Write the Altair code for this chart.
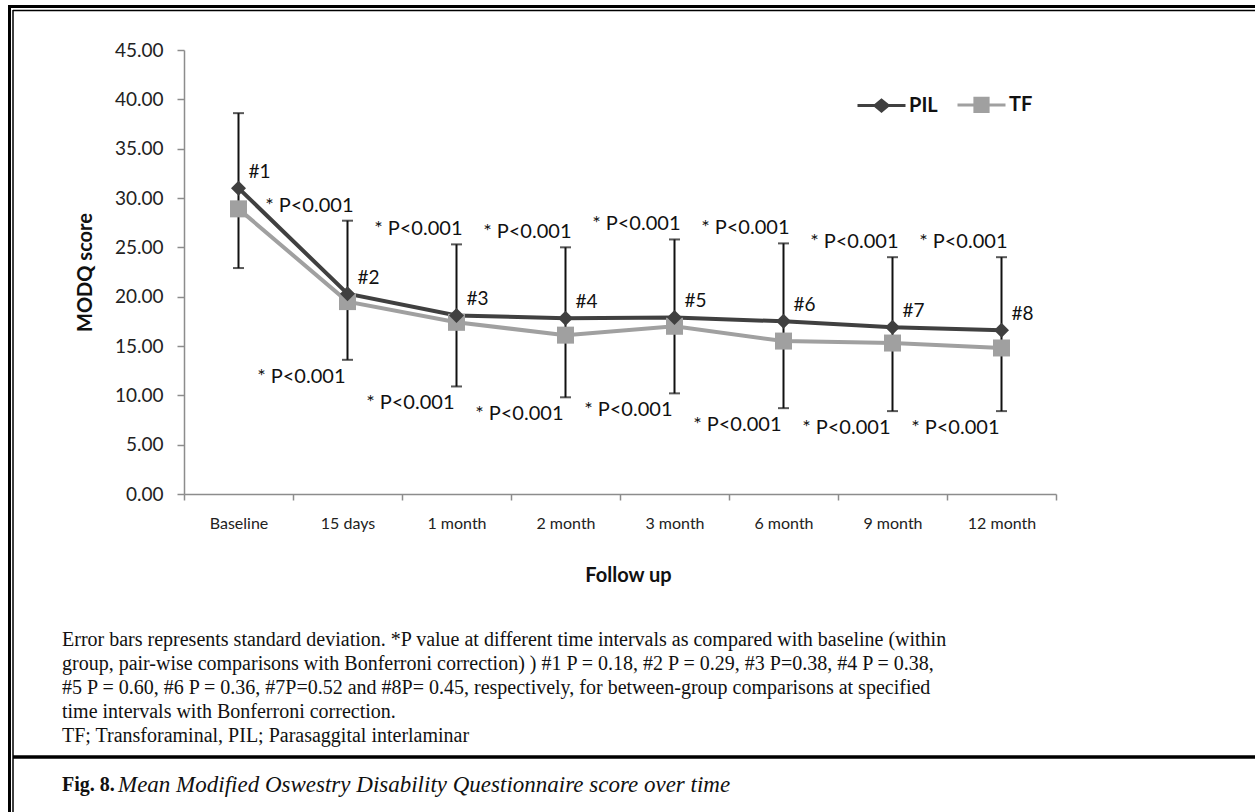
import altair as alt
import pandas as pd

categories = ["Baseline", "15 days", "1 month", "2 month", "3 month", "6 month", "9 month", "12 month"]
pil_mean = [31.0, 20.3, 18.1, 17.8, 17.9, 17.5, 16.9, 16.6]
tf_mean = [28.9, 19.5, 17.4, 16.1, 17.0, 15.5, 15.3, 14.8]
sd_top = [38.6, 27.7, 25.3, 25.0, 25.8, 25.4, 24.0, 24.0]
sd_bottom = [22.9, 13.6, 10.9, 9.8, 10.2, 8.7, 8.4, 8.4]
hash_labels = ["#1", "#2", "#3", "#4", "#5", "#6", "#7", "#8"]
p_text = "* P<0.001"
series_names = ["PIL", "TF"]
series_colors = ["#404040", "#a0a0a0"]
y_ticks = [0, 5, 10, 15, 20, 25, 30, 35, 40, 45]
caption_lines = [
    "Error bars represents standard deviation. *P value at different time intervals as compared with baseline (within",
    "group, pair-wise comparisons with Bonferroni correction) ) #1 P = 0.18, #2 P = 0.29, #3 P=0.38, #4 P = 0.38,",
    "#5 P = 0.60, #6 P = 0.36, #7P=0.52 and #8P= 0.45, respectively, for between-group comparisons at specified",
    "time intervals with Bonferroni correction.",
    "TF; Transforaminal, PIL; Parasaggital interlaminar",
]
fig_label = "Fig. 8."
fig_title = "Mean Modified Oswestry Disability Questionnaire score over time"

long_df = pd.DataFrame({
    "cat": categories * 2,
    "series": ["PIL"] * len(categories) + ["TF"] * len(categories),
    "value": pil_mean + tf_mean,
})
err_df = pd.DataFrame({"cat": categories, "top": sd_top, "bottom": sd_bottom,
                       "pil": pil_mean, "hash": hash_labels})
p_df = err_df.iloc[1:].copy()
p_df["p"] = p_text
dummy = pd.DataFrame({"a": [0]})

W, H = 872, 444
FONT = "Lato"
SERIF = "Liberation Serif"

x_enc = alt.X("cat:N", sort=categories, bandPosition=0.5,
              scale=alt.Scale(type="band", domain=categories, paddingInner=0, paddingOuter=0),
              axis=alt.Axis(title="Follow up", labelAngle=0, tickBand="extent", tickSize=6,
                            labelPadding=15, labelFontSize=16, titleFontSize=20,
                            titleX=444, titleY=81, titleBaseline="middle"))
yscale = alt.Scale(domain=[0, 45], nice=False, zero=True)
y_axis = alt.Axis(values=y_ticks, format=".2f", title="MODQ score", tickSize=7,
                  labelPadding=14, labelFontSize=19, titleFontSize=20,
                  titleX=-99, titleY=222, titleAngle=-90, titleAlign="center",
                  titleBaseline="middle")


def y_enc(field):
    return alt.Y(field, type="quantitative", scale=yscale, axis=y_axis, title="MODQ score")


color_scale = alt.Scale(domain=series_names, range=series_colors)

err_rule = alt.Chart(err_df).mark_rule(color="#111111", strokeWidth=2).encode(
    x=x_enc, y=y_enc("bottom"), y2="top")
cap_top = alt.Chart(err_df).mark_tick(color="#111111", thickness=2, size=11, orient="horizontal").encode(
    x=x_enc, y=y_enc("top"))
cap_bot = alt.Chart(err_df).mark_tick(color="#111111", thickness=2, size=11, orient="horizontal").encode(
    x=x_enc, y=y_enc("bottom"))

lines_tf = alt.Chart(long_df).transform_filter("datum.series == 'TF'").mark_line(
    strokeWidth=4, color=series_colors[1]).encode(x=x_enc, y=y_enc("value"))
lines_pil = alt.Chart(long_df).transform_filter("datum.series == 'PIL'").mark_line(
    strokeWidth=4, color=series_colors[0]).encode(x=x_enc, y=y_enc("value"))
pts_tf = alt.Chart(long_df).transform_filter("datum.series == 'TF'").mark_point(
    shape="square", filled=True, size=289, opacity=1, color=series_colors[1]).encode(
    x=x_enc, y=y_enc("value"))
pts_pil = alt.Chart(long_df).transform_filter("datum.series == 'PIL'").mark_point(
    shape="diamond", filled=True, size=225, opacity=1, color=series_colors[0]).encode(
    x=x_enc, y=y_enc("value"))

hash_txt = alt.Chart(err_df).mark_text(font=FONT, fontSize=19, align="left", baseline="middle",
                                       dx=10, dy=-16, color="#111111").encode(
    x=x_enc, y=y_enc("pil"), text="hash:N")
p_up = alt.Chart(p_df).mark_text(font=FONT, fontSize=20, align="right", baseline="middle",
                                 dx=6, dy=-15, color="#111111").encode(
    x=x_enc, y=y_enc("top"), text="p:N")
p_dn = alt.Chart(p_df).mark_text(font=FONT, fontSize=20, align="right", baseline="middle",
                                 dx=-2, dy=17, color="#111111").encode(
    x=x_enc, y=y_enc("bottom"), text="p:N")

leg_paths = [
    "M-2,0L-0.5,0M0.5,0L2,0M-0.55,0L0,-0.45L0.55,0L0,0.45Z",
    "M-2,0L-0.5,0M0.5,0L2,0M-0.55,-0.55L0.55,-0.55L0.55,0.55L-0.55,0.55Z",
]
legend = alt.Legend(title=None, orient="none", legendX=684, legendY=41, direction="horizontal",
                    symbolSize=576, symbolStrokeWidth=3, labelFont=FONT, labelFontSize=20,
                    labelFontWeight="bold", labelColor="#111111", labelOffset=14,
                    columnPadding=13, padding=0)
leg_layer = alt.Chart(long_df).transform_filter("false").mark_point(filled=True, opacity=1).encode(
    shape=alt.Shape("series:N", scale=alt.Scale(domain=series_names, range=leg_paths), legend=legend),
    color=alt.Color("series:N", scale=color_scale, legend=legend),
    stroke=alt.Stroke("series:N", scale=color_scale, legend=legend),
)


# frame and caption (page decoration, pixel positions relative to plot origin)
def hrule(x1, x2, y, w, c="#000000"):
    return alt.Chart(dummy).mark_rule(color=c, strokeWidth=w).encode(
        x=alt.value(x1), x2=alt.value(x2), y=alt.value(y))


def vrule(x, y1, y2, w, c="#000000"):
    return alt.Chart(dummy).mark_rule(color=c, strokeWidth=w).encode(
        x=alt.value(x), y=alt.value(y1), y2=alt.value(y2))


frame = [
    hrule(-176, 1071, -43.5, 3),
    hrule(-171, 1071, -39.5, 1.5),
    vrule(-174.5, -45, 762, 3),
    vrule(-171, -40, 762, 1.5),
    hrule(-171, 1071, 707, 3.5),
]
caption = alt.Chart(dummy).mark_text(font=SERIF, fontSize=20, align="left", baseline="middle",
                                     lineHeight=24, color="#111111").encode(
    x=alt.value(-122), y=alt.value(590), text=alt.value(caption_lines))
fig_lab = alt.Chart(dummy).mark_text(font=SERIF, fontSize=20, fontWeight="bold", align="left",
                                     baseline="middle", color="#111111").encode(
    x=alt.value(-122), y=alt.value(735), text=alt.value(fig_label))
fig_tit = alt.Chart(dummy).mark_text(font=SERIF, fontSize=23, fontStyle="italic", align="left",
                                     baseline="middle", color="#111111").encode(
    x=alt.value(-66), y=alt.value(735), text=alt.value(fig_title))

chart = alt.layer(
    err_rule, cap_top, cap_bot, lines_tf, lines_pil, pts_tf, pts_pil,
    hash_txt, p_up, p_dn, leg_layer, *frame, caption, fig_lab, fig_tit
).properties(
    width=W, height=H,
    padding={"left": 184, "top": 50, "right": 199, "bottom": 318},
    autosize=alt.AutoSizeParams(type="none"),
    background="white",
).configure_view(stroke=None).configure_axis(
    domainColor="#8c8c8c", tickColor="#8c8c8c", domainWidth=1.5, tickWidth=1.5,
    labelFont=FONT, labelColor="#222222", titleFont=FONT, titleFontWeight="bold",
    titleColor="#111111", grid=False,
)

chart.save("out.html", embed_options={"renderer": "svg", "actions": False})
